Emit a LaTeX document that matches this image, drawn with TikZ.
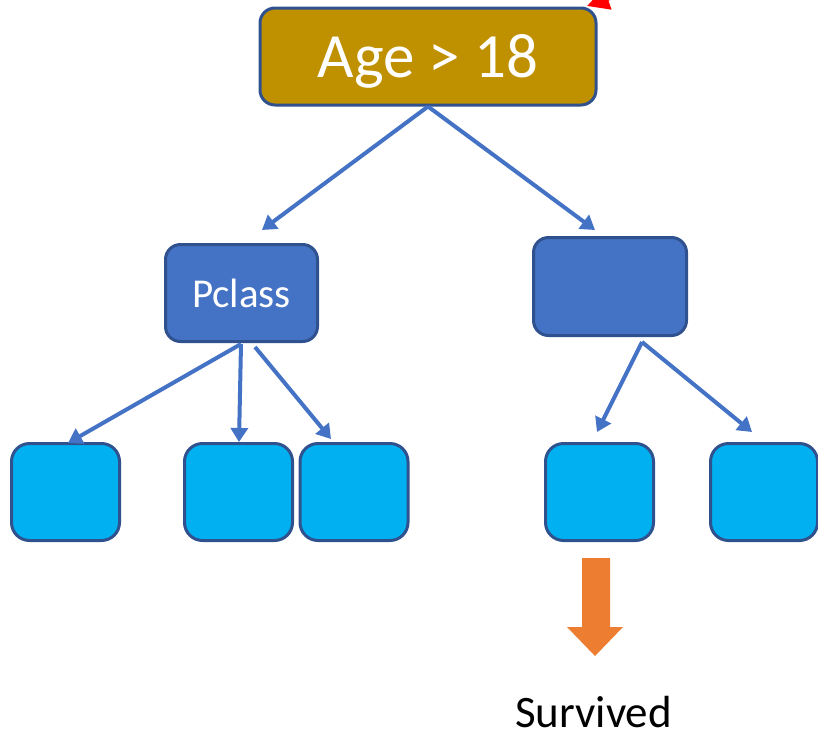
\documentclass[tikz,border=0pt]{standalone}
\usepackage{fontspec}
\setmainfont{Carlito}
\usetikzlibrary{arrows.meta}
\definecolor{gold}{HTML}{BF9000}
\definecolor{edge}{HTML}{2F528F}
\definecolor{midblue}{HTML}{4472C4}
\definecolor{leafblue}{HTML}{00B0F0}
\definecolor{orange}{HTML}{ED7D31}
\begin{document}
\begin{tikzpicture}[x=1pt,y=-1pt,
  box/.style={draw=edge, line width=3pt, inner sep=0pt, rounded corners=15pt, text=white},
  leaf/.style={box, fill=leafblue, minimum width=108pt, minimum height=97pt, rounded corners=18pt},
  link/.style={midblue, line width=4pt, -{Triangle[length=14pt,width=17pt]}}]
\useasboundingbox (0,0) rectangle (818,739);
\clip (0,0) rectangle (818,739);

% root test and first split
\node[box, fill=gold, minimum width=336pt, minimum height=97pt,
      font=\fontsize{63}{63}\selectfont, text height=42pt, text depth=0pt]
      (root) at (428,56.5) {Age > 18};
\node[box, fill=midblue, minimum width=152pt, minimum height=97pt,
      font=\fontsize{41}{41}\selectfont, text height=28pt, text depth=0pt]
      (pclass) at (241.5,293) {Pclass};
\node[box, fill=midblue, minimum width=153pt, minimum height=98pt] (right) at (610,286.5) {};

% leaves
\node[leaf] (l1) at (65.5,492) {};
\node[leaf] (l2) at (238.5,492) {};
\node[leaf] (l3) at (354,492) {};
\node[leaf] (l4) at (599.5,492) {};
\node[leaf, minimum width=107pt] (l5) at (764,492) {};

% arrow tips
\coordinate (tPL) at (262,230);
\coordinate (tPR) at (595,230);
\coordinate (sP) at (241,344);
\coordinate (sP3) at (255,347);
\coordinate (t1) at (68,443);
\coordinate (t2) at (239,442);
\coordinate (t3) at (331,439);
\coordinate (sR) at (642,342);
\coordinate (t4) at (597,432);
\coordinate (t5) at (752,432);

\draw[link] (root.south) -- (tPL);
\draw[link] (root.south) -- (tPR);
\draw[link] (sP) -- (t1);
\draw[link] (sP) -- (t2);
\draw[link] (sP3) -- (t3);
\draw[link] (sR) -- (t4);
\draw[link] (sR) -- (t5);

% pointer at the root corner
\coordinate (redstart) at (690,-30);
\coordinate (redtip) at (587,6);
\draw[red, line width=4pt, -{Triangle[length=22pt,width=22pt]}] (redstart) -- (redtip);

% outcome block arrow and label
\fill[orange] (582,558) -- (610,558) -- (610,627) -- (623,627) -- (595,656)
  -- (567,627) -- (582,627) -- cycle;
\node[anchor=base, font=\fontsize{45}{45}\selectfont, inner sep=0pt] (surv) at (593.5,727) {Survived};
\end{tikzpicture}
\end{document}
